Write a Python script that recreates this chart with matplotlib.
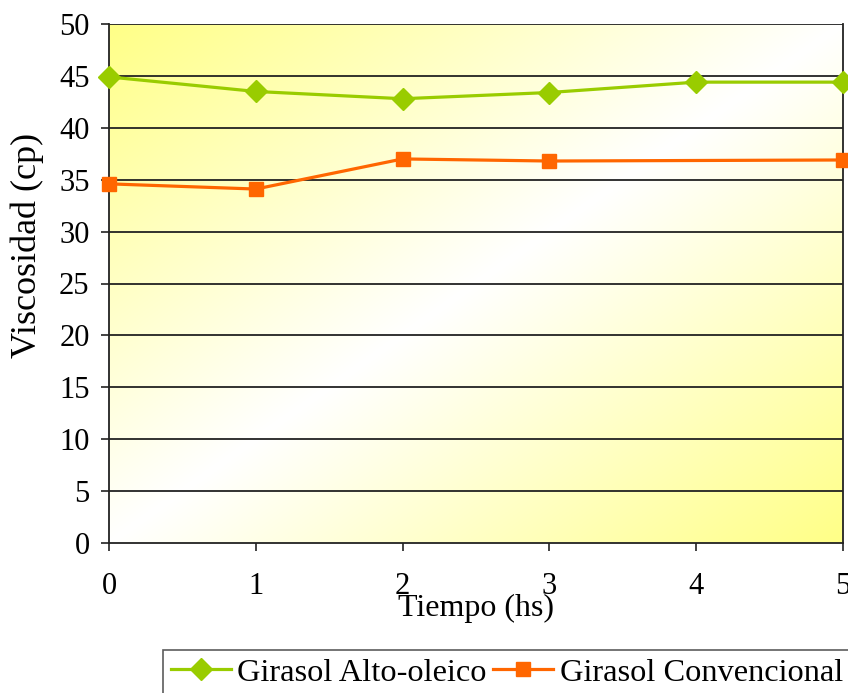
import numpy as np
import matplotlib
matplotlib.use("Agg")
from matplotlib import pyplot as plt

# viscosity over time for two sunflower oils
tiempo = [0, 1, 2, 3, 4, 5]
alto_oleico = [44.9, 43.5, 42.8, 43.4, 44.4, 44.4]
tiempo_conv = [0, 1, 2, 3, 5]
convencional = [34.6, 34.1, 37.0, 36.8, 36.9]

plt.rcParams["font.family"] = ["Liberation Serif", "DejaVu Serif"]

fig = plt.figure(figsize=(8.48, 6.93), dpi=100)
ax = fig.add_axes([109 / 848, 1 - 543 / 693, (843 - 109) / 848, (543 - 24) / 693])

# diagonal yellow-white-yellow fill behind the plot
n = 300
u, v = np.meshgrid(np.linspace(0, 1, n), np.linspace(1, 0, n))
d = np.abs(u - v)
yellow = np.array([255, 255, 135]) / 255
white = np.array([1.0, 1.0, 1.0])
img = white * (1 - d[..., None]) + yellow * d[..., None]
ax.imshow(img, extent=[0, 1, 0, 1], transform=ax.transAxes, aspect="auto", zorder=0)

ax.set_xlim(0, 5)
ax.set_ylim(0, 50)
ax.set_yticks(range(0, 51, 5))
ax.set_xticks(tiempo)
for yv in range(5, 51, 5):
    ax.axhline(yv, color="#222222", lw=1.3, zorder=1)

ax.plot(tiempo, alto_oleico, color="#99CC00", lw=2.3, marker="D", ms=11,
        label="Girasol Alto-oleico", zorder=3, clip_on=False)
ax.plot(tiempo_conv, convencional, color="#FF6600", lw=2.3, marker="s", ms=10.5,
        label="Girasol Convencional", zorder=3, clip_on=False)

for s in ax.spines.values():
    s.set_color("#222222")
    s.set_linewidth(1.3)
ax.spines["top"].set_visible(False)

ax.tick_params(direction="out", length=6, width=1.2, color="#222222", labelsize=22)
ax.tick_params(axis="y", pad=8)
ax.tick_params(axis="x", pad=15)
ax.set_xlabel("Tiempo (hs)", fontsize=23, labelpad=-5)
ax.set_ylabel("Viscosidad (cp)", fontsize=26)
ax.yaxis.set_label_coords(-0.088, 0.574)

leg = fig.legend(loc="upper left", bbox_to_anchor=(163 / 848, 1 - 650 / 693), ncol=2, fontsize=23.3,
                 frameon=True, fancybox=False, edgecolor="#333333", handlelength=1.85,
                 columnspacing=0.2, handletextpad=0.2, borderpad=0.25, borderaxespad=0)
leg.get_frame().set_linewidth(1.2)

plt.savefig("out.png", dpi=100)
